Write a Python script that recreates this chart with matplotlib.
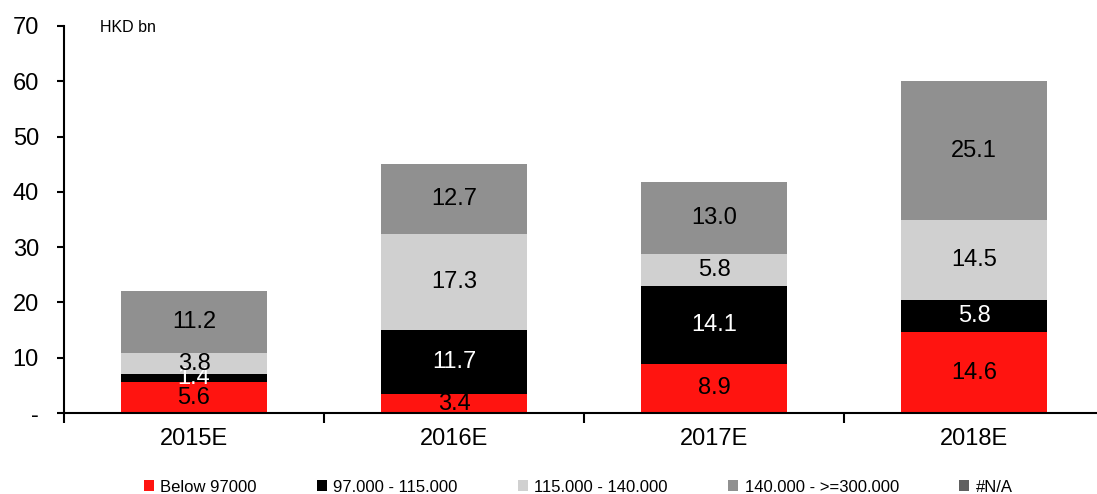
import matplotlib
matplotlib.use("Agg")
import matplotlib.pyplot as plt
import numpy as np

plt.rcParams['font.family'] = ['Liberation Sans', 'DejaVu Sans']

years = ['2015E', '2016E', '2017E', '2018E']
below_97000 = [5.6, 3.4, 8.9, 14.6]
r97_115 = [1.4, 11.7, 14.1, 5.8]
r115_140 = [3.8, 17.3, 5.8, 14.5]
r140_300 = [11.2, 12.7, 13.0, 25.1]
na_vals = [0.0, 0.0, 0.0, 0.0]

series = [
    ('Below 97000', below_97000, '#FF1410', 'black'),
    ('97.000 - 115.000', r97_115, 'black', 'white'),
    ('115.000 - 140.000', r115_140, '#D0D0D0', 'black'),
    ('140.000 - >=300.000', r140_300, '#909090', 'black'),
    ('#N/A', na_vals, '#606060', 'black'),
]

fig = plt.figure(figsize=(10.97, 4.94), dpi=100)
ax = fig.add_axes([64/1097, 81/494, 1040/1097, 387/494])

x = np.arange(len(years))
bottom = np.zeros(len(years))
for name, vals, col, tcol in series:
    vals = np.array(vals)
    ax.bar(x, vals, 0.56, bottom=bottom, color=col, label=name)
    for xi, b, v in zip(x, bottom, vals):
        if v > 0:
            ax.text(xi, b + v/2, '%.1f' % v, ha='center', va='center',
                    fontsize=17, color=tcol)
    bottom += vals

ax.set_xlim(-0.5, 3.5)
ax.set_ylim(0, 70)
ax.set_yticks(range(0, 71, 10))
ax.set_yticklabels(['-'] + [str(v) for v in range(10, 71, 10)], fontsize=17)
ax.set_xticks(np.arange(-0.5, 3.6, 1.0))
ax.set_xticklabels([])
ax.set_xticks(x, minor=True)
ax.set_xticklabels(years, minor=True, fontsize=17)
ax.tick_params(axis='x', which='major', direction='out', length=7, width=1.5)
ax.tick_params(axis='x', which='minor', length=0, pad=11)
ax.tick_params(axis='y', direction='out', length=5, width=1.5, pad=13)
ax.spines['top'].set_visible(False)
ax.spines['right'].set_visible(False)
ax.spines['left'].set_linewidth(1.5)
ax.spines['bottom'].set_linewidth(1.5)

fig.text(100/1097, 1 - 27/494, 'HKD bn', fontsize=11.5, va='center', ha='left')

fig.legend(loc='center', bbox_to_anchor=(578/1097, 1 - 487/494), ncol=5,
           frameon=False, fontsize=12, handlelength=0.6, handleheight=0.6,
           handletextpad=0.4, columnspacing=3.6)

fig.savefig('out.png', dpi=100)
